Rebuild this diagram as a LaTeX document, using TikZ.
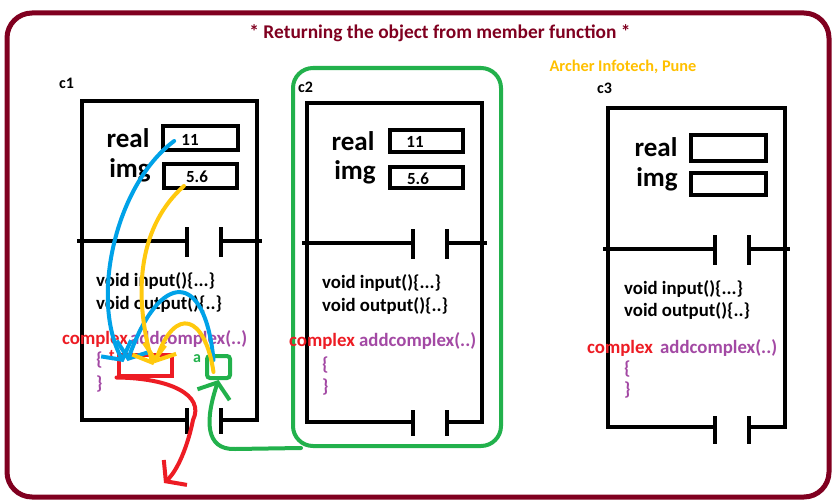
\documentclass[tikz,border=0pt]{standalone}
\usepackage{fontspec}
\setmainfont{Carlito}
\usetikzlibrary{arrows.meta,calc}
\definecolor{framered}{RGB}{128,0,32}
\definecolor{pred}{RGB}{237,28,36}
\definecolor{ppurple}{RGB}{163,73,164}
\definecolor{pgreen}{RGB}{34,177,76}
\definecolor{pblue}{RGB}{0,162,232}
\definecolor{pgold}{RGB}{255,201,14}
\definecolor{archer}{RGB}{255,192,0}
\begin{document}
\begin{tikzpicture}[x=1pt,y=-1pt,
  classline/.style={line width=4pt, line cap=rect},
  fieldbox/.style={draw, line width=3.5pt, inner sep=0pt},
  txt/.style={font=\bfseries\fontsize{18.8}{20}\selectfont, inner sep=0pt, anchor=west},
  bigtxt/.style={font=\bfseries\fontsize{27}{30}\selectfont, inner sep=0pt},
  valtxt/.style={font=\bfseries\fontsize{17}{19}\selectfont, inner sep=0pt},
  lbl/.style={font=\bfseries\fontsize{16}{18}\selectfont, inner sep=0pt, anchor=west},
  arr/.style={line width=4pt, -{Straight Barb[length=13pt,width=34pt]}, line cap=round}
]
\useasboundingbox (0,0) rectangle (840,503);
\fill[white] (0,0) rectangle (840,503);
% outer frame
\draw[framered, line width=5pt, rounded corners=25pt] (7,13) rectangle (829,497);
\node[font=\bfseries\fontsize{19.4}{21}\selectfont, text=framered, inner sep=0pt] (title) at (440,33) {* Returning the object from member function *};
\node[font=\bfseries\fontsize{16.3}{18}\selectfont, text=archer, inner sep=0pt] (archer) at (623,67) {Archer Infotech, Pune};

% object labels
\node[lbl] (c1) at (59,83) {c1};
\node[lbl] (c2) at (298,87) {c2};
\node[lbl] (c3) at (597,88) {c3};

% c2 green frame
\node[draw=pgreen, line width=4pt, rounded corners=20pt, minimum width=208pt, minimum height=378pt, inner sep=0pt] (c2frame) at (397,257) {};

% ---------- class c1 ----------
\draw[classline] (187,420) -- (82,420) -- (82,101) -- (257,101) -- (257,420) -- (221,420);
\draw[classline] (79,241) -- (187,241) (221,241) -- (260,241);
\draw[classline] (187,229) -- (187,255) (221,229) -- (221,255);
\draw[classline] (187,410) -- (187,432) (221,410) -- (221,432);
\node[bigtxt] (c1real) at (128,138) {real};
\node[bigtxt] (c1img) at (130,170) {img};
\node[fieldbox, minimum width=75pt, minimum height=24pt] (c1rbox) at (200.5,138) {};
\node[fieldbox, minimum width=73pt, minimum height=24pt] (c1ibox) at (200.5,176) {};
\node[valtxt] (c1v11) at (190,140) {11};
\node[valtxt] (c1v56) at (197,177) {5.6};
\node[txt] (c1in) at (96,281) {void input()\{...\}};
\node[txt] (c1out) at (96,304) {void output()\{..\}};
\node[txt, text=pred] (c1cx) at (62,339) {complex};
\node[txt, text=ppurple] (c1add) at (130,339) {addcomplex(..)};
\node[txt, text=ppurple] (c1ob) at (96,360) {\{};
\node[txt, text=ppurple] (c1cb) at (96,384) {\}};
\node[font=\bfseries\fontsize{16}{18}\selectfont, text=pred, inner sep=0pt] (tlbl) at (112,356) {t};
\node[font=\bfseries\fontsize{16}{18}\selectfont, text=pgreen, inner sep=0pt] (albl) at (197,359) {a};
\node[draw=pred, line width=4pt, minimum width=53pt, minimum height=21pt, inner sep=0pt] (tbox) at (145,365) {};
\node[draw=pgreen, line width=4pt, rounded corners=3pt, minimum width=23pt, minimum height=22pt, inner sep=0pt] (abox) at (218.5,367) {};

% ---------- class c2 ----------
\draw[classline] (413,422) -- (307,422) -- (307,103) -- (482,103) -- (482,422) -- (447,422);
\draw[classline] (304,243) -- (413,243) (447,243) -- (485,243);
\draw[classline] (413,231) -- (413,257) (447,231) -- (447,257);
\draw[classline] (413,412) -- (413,434) (447,412) -- (447,434);
\node[bigtxt] (c2real) at (353,141) {real};
\node[bigtxt] (c2img) at (355,172) {img};
\node[fieldbox, minimum width=73pt, minimum height=22pt] (c2rbox) at (426.5,141) {};
\node[fieldbox, minimum width=73pt, minimum height=21pt] (c2ibox) at (426.5,177.5) {};
\node[valtxt] (c2v11) at (415,142) {11};
\node[valtxt] (c2v56) at (418,179) {5.6};
\node[txt] (c2in) at (322,283) {void input()\{...\}};
\node[txt] (c2out) at (322,306) {void output()\{..\}};
\node[txt, text=pred] (c2cx) at (289,341) {complex};
\node[txt, text=ppurple] (c2add) at (359,341) {addcomplex(..)};
\node[txt, text=ppurple] (c2ob) at (322,365) {\{};
\node[txt, text=ppurple] (c2cb) at (322,387) {\}};

% ---------- class c3 ----------
\draw[classline] (715,427) -- (608,427) -- (608,108) -- (785,108) -- (785,427) -- (749,427);
\draw[classline] (605,249) -- (715,249) (749,249) -- (788,249);
\draw[classline] (715,237) -- (715,263) (749,237) -- (749,263);
\draw[classline] (715,418) -- (715,442) (749,418) -- (749,442);
\node[bigtxt] (c3real) at (656,147) {real};
\node[bigtxt] (c3img) at (657,179) {img};
\node[fieldbox, minimum width=75pt, minimum height=26pt] (c3rbox) at (728.5,148) {};
\node[fieldbox, minimum width=75pt, minimum height=22pt] (c3ibox) at (728.5,184) {};
\node[txt] (c3in) at (624,289) {void input()\{...\}};
\node[txt] (c3out) at (624,311) {void output()\{..\}};
\node[txt, text=pred] (c3cx) at (587,348) {complex};
\node[txt, text=ppurple] (c3add) at (660,348) {addcomplex(..)};
\node[txt, text=ppurple] (c3ob) at (624,369) {\{};
\node[txt, text=ppurple] (c3cb) at (624,390) {\}};

% ---------- arrows ----------
\draw[arr, pblue] ($(c1v11.west)+(-7,1)$) .. controls (115,185) and (90,300) .. ($(tbox.west)+(7,-3)$);
\draw[arr, pblue] ($(abox.center)+(-5,-7)$) .. controls (205,270) and (160,270) .. ($(tbox.west)+(11,-4)$);
\draw[arr, pgold] ($(c1v56.west)+(-2,9)$) .. controls (140,225) and (132,290) .. ($(tbox.center)+(8,0)$);
\draw[arr, pgold] ($(abox.center)+(-5,5)$) .. controls (205,315) and (175,305) .. ($(tbox.center)+(10,-2)$);
\draw[arr, pred] ($(tbox.south west)+(0,0)$) .. controls (170,378) and (205,395) .. (193,420) .. controls (188,445) and (178,470) .. (164,483);
\draw[arr, pgreen] ($(c2frame.south west)+(10,0)$) -- (235,449) .. controls (205,450) and (205,420) .. (abox.south);
\end{tikzpicture}
\end{document}
